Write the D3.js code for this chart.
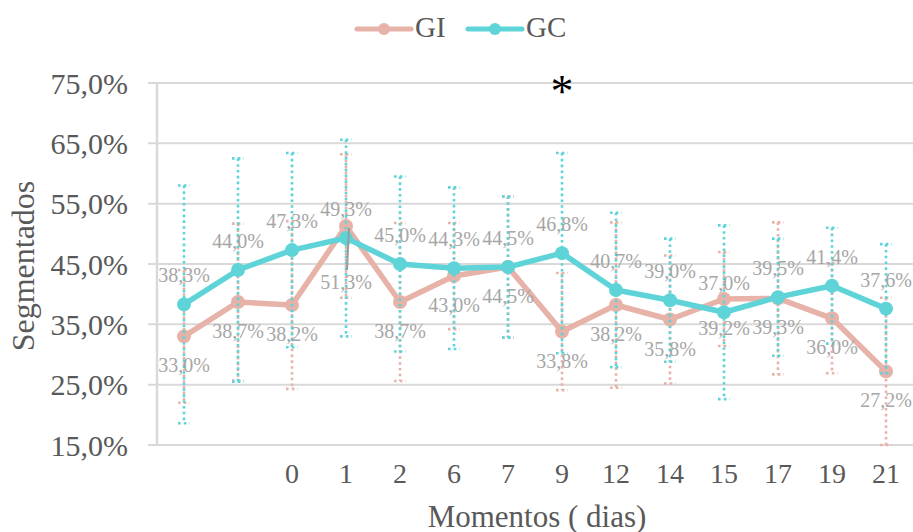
<!DOCTYPE html>
<html>
<head>
<meta charset="utf-8">
<script src="https://cdn.jsdelivr.net/npm/d3@7"></script>
<style>
  html, body { margin: 0; padding: 0; background: #fff; }
  svg text { font-family: "Liberation Serif", "Times New Roman", Tinos, "DejaVu Serif", serif !important; }
</style>
</head>
<body>
<svg id="chart" width="913" height="532"></svg>
<script>
// Moments of evaluation (days); the first two slots are unlabeled baseline moments
const categories = ["", "", "0", "1", "2", "6", "7", "9", "12", "14", "15", "17", "19", "21"];
const seriesNames = ["GI", "GC"];
// Mean percentage of segmented neutrophils per group
const giValues = [33.0, 38.7, 38.2, 51.3, 38.7, 43.0, 44.5, 33.8, 38.2, 35.8, 39.2, 39.3, 36.0, 27.2];
const gcValues = [38.3, 44.0, 47.3, 49.3, 45.0, 44.3, 44.5, 46.8, 40.7, 39.0, 37.0, 39.5, 41.4, 37.6];
// Standard deviations (error bars, ±)
const giErrors = [11.0, 13.0, 13.9, 11.9, 13.1, 8.8, 11.7, 9.7, 13.7, 10.6, 7.8, 12.6, 9.1, 12.2];
const gcErrors = [19.7, 18.5, 16.1, 16.3, 14.5, 13.4, 11.7, 16.6, 12.8, 10.2, 14.4, 9.7, 9.6, 10.7];
const yTicks = [15, 25, 35, 45, 55, 65, 75];
// Moment with a significant difference between groups
const significantMoment = "9";

const colors = { GI: "#e7b2a8", GC: "#5fd4d8" };
const textColor = "#595959";
const labelColor = "#a6a6a6";
const gridColor = "#d9d9d9";
const serif = "'Liberation Serif', 'Times New Roman', Tinos, 'DejaVu Serif', serif";

const svg = d3.select("#chart");
const margin = { left: 157, right: 0, top: 83, bottom: 87 };
const width = 913, height = 532;

const ptLocale = d3.formatLocale({ decimal: ",", thousands: ".", grouping: [3], currency: ["", "€"] });
const fmt = ptLocale.format(".1f");

const x = d3.scaleBand()
  .domain(d3.range(categories.length))
  .range([margin.left, width - margin.right])
  .paddingInner(0).paddingOuter(0);
const cx = i => x(i) + x.bandwidth() / 2;

const y = d3.scaleLinear()
  .domain([15, 75])
  .range([height - margin.bottom, margin.top]);

// Gridlines
svg.append("g")
  .selectAll("line")
  .data(yTicks)
  .join("line")
  .attr("x1", margin.left - 9)
  .attr("x2", width - margin.right)
  .attr("y1", d => y(d))
  .attr("y2", d => y(d))
  .attr("stroke", gridColor)
  .attr("stroke-width", 2);

// Vertical axis line
svg.append("line")
  .attr("x1", margin.left).attr("x2", margin.left)
  .attr("y1", y(75)).attr("y2", y(15))
  .attr("stroke", gridColor).attr("stroke-width", 2.5);

// Y axis tick labels
const yAxis = d3.axisLeft(y)
  .tickValues(yTicks)
  .tickSize(0)
  .tickPadding(29)
  .tickFormat(d => fmt(d) + "%");
const yg = svg.append("g").attr("transform", `translate(${margin.left},0)`).call(yAxis);
yg.attr("font-family", serif);
yg.select(".domain").remove();
yg.selectAll("text")
  .attr("fill", textColor)
  .attr("font-size", 30)
  .attr("dy", "0.34em");

// X axis tick labels
const xAxis = d3.axisBottom(x)
  .tickSize(0)
  .tickPadding(18)
  .tickFormat(i => categories[i]);
const xg = svg.append("g").attr("transform", `translate(0,${y(15)})`).call(xAxis);
xg.attr("font-family", serif);
xg.select(".domain").remove();
xg.selectAll("text")
  .attr("fill", textColor)
  .attr("font-size", 28);

// Axis titles
svg.append("text")
  .attr("x", 537).attr("y", 516)
  .attr("text-anchor", "middle")
  .attr("dominant-baseline", "central")
  .attr("fill", textColor)
  .attr("font-size", 31)
  .text("Momentos ( dias)");

svg.append("text")
  .attr("transform", "translate(23,266) rotate(-90)")
  .attr("text-anchor", "middle")
  .attr("dominant-baseline", "central")
  .attr("fill", textColor)
  .attr("font-size", 32)
  .text("Segmentados");

// Series drawing
const series = [
  { name: "GI", values: giValues, errors: giErrors, labelSide: 1 },
  { name: "GC", values: gcValues, errors: gcErrors, labelSide: -1 }
];

const line = d3.line().x((d, i) => cx(i)).y(d => y(d));
const capHalf = 6;

series.forEach(s => {
  const g = svg.append("g");
  const col = colors[s.name];
  const eb = g.append("g")
    .attr("stroke", col)
    .attr("stroke-width", 2.6)
    .attr("stroke-dasharray", "2.6,3.2")
    .attr("fill", "none");
  s.values.forEach((v, i) => {
    const lo = y(v - s.errors[i]), hi = y(v + s.errors[i]);
    eb.append("line").attr("x1", cx(i)).attr("x2", cx(i)).attr("y1", hi).attr("y2", lo);
    eb.append("line").attr("x1", cx(i) - capHalf).attr("x2", cx(i) + capHalf).attr("y1", hi).attr("y2", hi);
    eb.append("line").attr("x1", cx(i) - capHalf).attr("x2", cx(i) + capHalf).attr("y1", lo).attr("y2", lo);
  });
  s.group = g;
});

series.forEach(s => {
  const g = s.group;
  const col = colors[s.name];
  g.append("path")
    .datum(s.values)
    .attr("d", line)
    .attr("fill", "none")
    .attr("stroke", col)
    .attr("stroke-width", 5.5)
    .attr("stroke-linejoin", "round")
    .attr("stroke-linecap", "round");
  g.selectAll("circle")
    .data(s.values)
    .join("circle")
    .attr("cx", (d, i) => cx(i))
    .attr("cy", d => y(d))
    .attr("r", 7)
    .attr("fill", col);
});

// Data labels (GC above points, GI below); the GI label at day 1 sits lower with a leader line
const leaderIndex = categories.indexOf("1");
series.forEach(s => {
  s.values.forEach((v, i) => {
    let off = 29 * s.labelSide;
    if (s.name === "GI" && i === leaderIndex) {
      off = 56;
      svg.append("line")
        .attr("x1", cx(i) + 3).attr("y1", y(v) + 2)
        .attr("x2", cx(i) + 1).attr("y2", y(v) + off - 12)
        .attr("stroke", "#9a9a9a").attr("stroke-width", 2);
    }
    svg.append("text")
      .attr("x", cx(i))
      .attr("y", y(v) + off)
      .attr("text-anchor", "middle")
      .attr("dominant-baseline", "central")
      .attr("fill", labelColor)
      .attr("font-size", 20)
      .text(fmt(v) + "%");
  });
});

// Significance marker
const sigIndex = categories.indexOf(significantMoment);
svg.append("text")
  .attr("x", cx(sigIndex))
  .attr("y", 107)
  .attr("text-anchor", "middle")
  .attr("fill", "#000")
  .attr("font-size", 46)
  .text("*");

// Legend
const legend = svg.append("g");
const legendItems = [{ name: "GI", x: 357 }, { name: "GC", x: 468 }];
legendItems.forEach(it => {
  const col = colors[it.name];
  legend.append("line")
    .attr("x1", it.x).attr("x2", it.x + 54)
    .attr("y1", 29).attr("y2", 29)
    .attr("stroke", col).attr("stroke-width", 5).attr("stroke-linecap", "round");
  legend.append("circle")
    .attr("cx", it.x + 27).attr("cy", 29).attr("r", 6).attr("fill", col);
  legend.append("text")
    .attr("x", it.x + 58).attr("y", 27)
    .attr("dominant-baseline", "central")
    .attr("fill", textColor)
    .attr("font-size", 29)
    .text(it.name);
});
</script>
</body>
</html>
